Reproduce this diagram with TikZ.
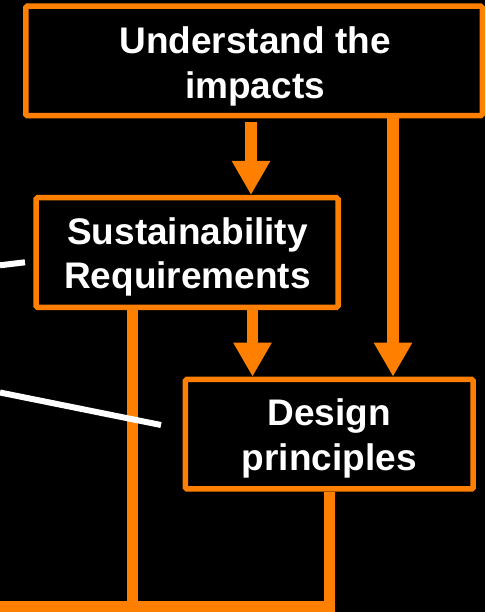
\documentclass[tikz,border=0pt]{standalone}
\usepackage{fontspec}
\setmainfont{Liberation Sans}
\usetikzlibrary{arrows.meta}
\definecolor{org}{RGB}{255,128,0}
\begin{document}
\begin{tikzpicture}[x=1pt,y=-1pt,
  box/.style={draw=org, line width=5.5pt, fill=black, rounded corners=1.5pt, inner sep=0pt, minimum height=109.5pt},
  lbl/.style={text=white, font=\fontsize{37}{45}\selectfont\bfseries, inner sep=0pt, anchor=base},
  conn/.style={draw=org, line width=11.5pt},
  arr/.style={conn, -{Triangle[length=34pt,width=36pt]}},
  pointer/.style={draw=white, line width=6pt}]
\fill[black] (0,0) rectangle (485,612);
\useasboundingbox (0,0) rectangle (485,612);
\clip (0,0) rectangle (485,612);
\node[box, minimum width=456.5pt] (b1) at (254,61) {};
\node[box, minimum width=302pt] (b2) at (187,252.5) {};
\node[box, minimum width=287.8pt] (b3) at (329.3,434.2) {};
\node[lbl] (t1a) at (255,53.3) {Understand the};
\node[lbl] (t1b) at (255,98.3) {impacts};
\node[lbl] (t2a) at (187.5,244) {Sustainability};
\node[lbl] (t2b) at (187.5,288.5) {Requirements};
\node[lbl] (t3a) at (329.3,425.5) {Design};
\node[lbl] (t3b) at (329.3,470.5) {principles};
\coordinate (ax1) at (251,0);
\coordinate (ax2) at (252.5,0);
\coordinate (axr) at (393,0);
\coordinate (lx) at (132.5,0);
\coordinate (bl) at (0,607);
\draw[arr, shorten <=4pt] (b1.south -| ax1) -- (b2.north -| ax1);
\draw[arr] (b2.south -| ax2) -- (b3.north -| ax2);
\draw[arr] (b1.south -| axr) -- (b3.north -| axr);
\draw[conn, line join=miter] (b3.south) |- (bl);
\draw[conn] (b2.south -| lx) -- (lx |- bl);
\coordinate (p1a) at (0,265.3);
\coordinate (p1b) at (25,262.3);
\coordinate (p2a) at (0,392.5);
\coordinate (p2b) at (161,425);
\draw[pointer] (p1a) -- (p1b);
\draw[pointer] (p2a) -- (p2b);
\end{tikzpicture}
\end{document}
